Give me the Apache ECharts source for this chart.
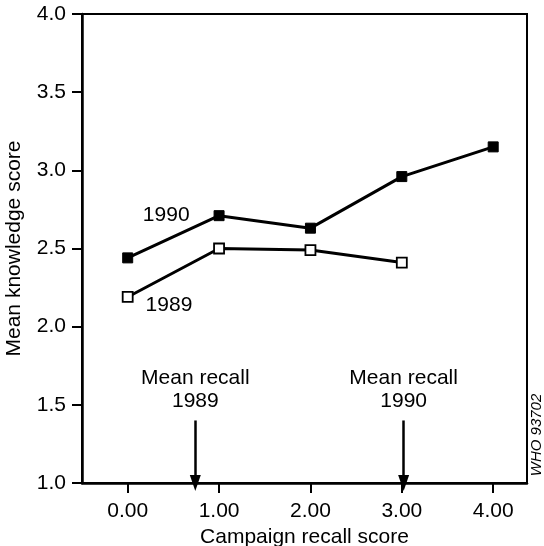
<!DOCTYPE html>
<html>
<head>
<meta charset="utf-8">
<script src="https://cdn.jsdelivr.net/npm/echarts@6/dist/echarts.min.js"></script>
<style>
  html, body { margin: 0; padding: 0; background: #fff; }
  #chart { width: 544px; height: 546px; }
</style>
</head>
<body>
<div id="chart"></div>
<script>
  const recallScores = [0, 1, 2, 3, 4];
  const knowledge1990 = [2.44, 2.71, 2.63, 2.96, 3.15];
  const knowledge1989 = [2.19, 2.50, 2.49, 2.41];
  const xTicks = [0, 1, 2, 3, 4];
  const meanRecall = [
    { year: '1989', recall: 0.74 },
    { year: '1990', recall: 3.02 },
  ];
  const arrowTop = 1.4;

  const font = "'Liberation Sans', Arial, sans-serif";
  const chart = echarts.init(document.getElementById('chart'));

  const toPoints = (vals) => vals.map((v, i) => [recallScores[i], v]);

  const option = {
    backgroundColor: '#fff',
    animation: false,
    textStyle: { fontFamily: font, color: '#000' },
    grid: {
      left: 82, right: 17, top: 14, bottom: 63,
      outerBoundsMode: 'none',
      containLabel: false,
      show: true, borderColor: '#000', borderWidth: 2,
    },
    xAxis: {
      type: 'value',
      min: -0.5,
      max: 4.37,
      name: 'Campaign recall score',
      nameLocation: 'middle',
      nameGap: 43,
      nameTextStyle: { fontSize: 21, color: '#000', fontFamily: font },
      splitLine: { show: false },
      axisLine: { onZero: false, lineStyle: { color: '#000', width: 2.5 } },
      axisTick: { customValues: xTicks, length: 10, lineStyle: { color: '#000', width: 2 } },
      axisLabel: {
        customValues: xTicks,
        fontSize: 21, color: '#000', margin: 18, fontFamily: font,
        formatter: (v) => v.toFixed(2),
      },
    },
    yAxis: {
      type: 'value',
      min: 1,
      max: 4,
      interval: 0.5,
      name: 'Mean knowledge score',
      nameLocation: 'middle',
      nameGap: 57,
      nameTextStyle: { fontSize: 21, color: '#000', fontFamily: font },
      splitLine: { show: false },
      axisLine: { onZero: false, lineStyle: { color: '#000', width: 2.5 } },
      axisTick: { length: 10, lineStyle: { color: '#000', width: 2 } },
      axisLabel: {
        fontSize: 21, color: '#000', margin: 16, fontFamily: font,
        formatter: (v) => v.toFixed(1),
      },
    },
    series: [
      {
        name: '1990',
        type: 'line',
        data: toPoints(knowledge1990).map((p, i) => i === 1 ? {
          value: p,
          label: { show: true, position: 'left', distance: 24, formatter: '1990' },
        } : p),
        symbol: 'rect',
        symbolSize: 10,
        lineStyle: { color: '#000', width: 3 },
        itemStyle: { color: '#000', borderColor: '#000', borderWidth: 1 },
        label: { fontSize: 21, color: '#000', fontFamily: font },
        z: 3,
      },
      {
        name: '1989',
        type: 'line',
        data: toPoints(knowledge1989).map((p, i) => i === 0 ? {
          value: p,
          label: { show: true, position: 'right', distance: 12, offset: [0, 8], formatter: '1989' },
        } : p),
        symbol: 'rect',
        symbolSize: 10,
        showAllSymbol: true,
        lineStyle: { color: '#000', width: 3 },
        itemStyle: { color: '#fff', borderColor: '#000', borderWidth: 1.8 },
        label: { fontSize: 21, color: '#000', fontFamily: font },
        z: 3,
        markLine: {
          silent: true,
          symbol: ['none', 'triangle'],
          symbolSize: [11, 16],
          symbolOffset: [-8, 0],
          lineStyle: { color: '#000', width: 2.5, type: 'solid' },
          label: {
            show: true,
            position: 'start',
            distance: 8,
            fontSize: 21,
            lineHeight: 23,
            color: '#000',
            fontFamily: font,
          },
          data: meanRecall.map((m) => [
            { coord: [m.recall, arrowTop], label: { formatter: 'Mean recall\n' + m.year } },
            { coord: [m.recall, 1] },
          ]),
        },
      },
    ],
    graphic: [
      {
        type: 'text',
        x: 537,
        y: 435,
        rotation: Math.PI / 2,
        style: {
          text: 'WHO 93702',
          font: 'italic 15px ' + font,
          fill: '#000',
          align: 'center',
          verticalAlign: 'middle',
        },
      },
    ],
  };

  chart.setOption(option);
</script>
</body>
</html>
